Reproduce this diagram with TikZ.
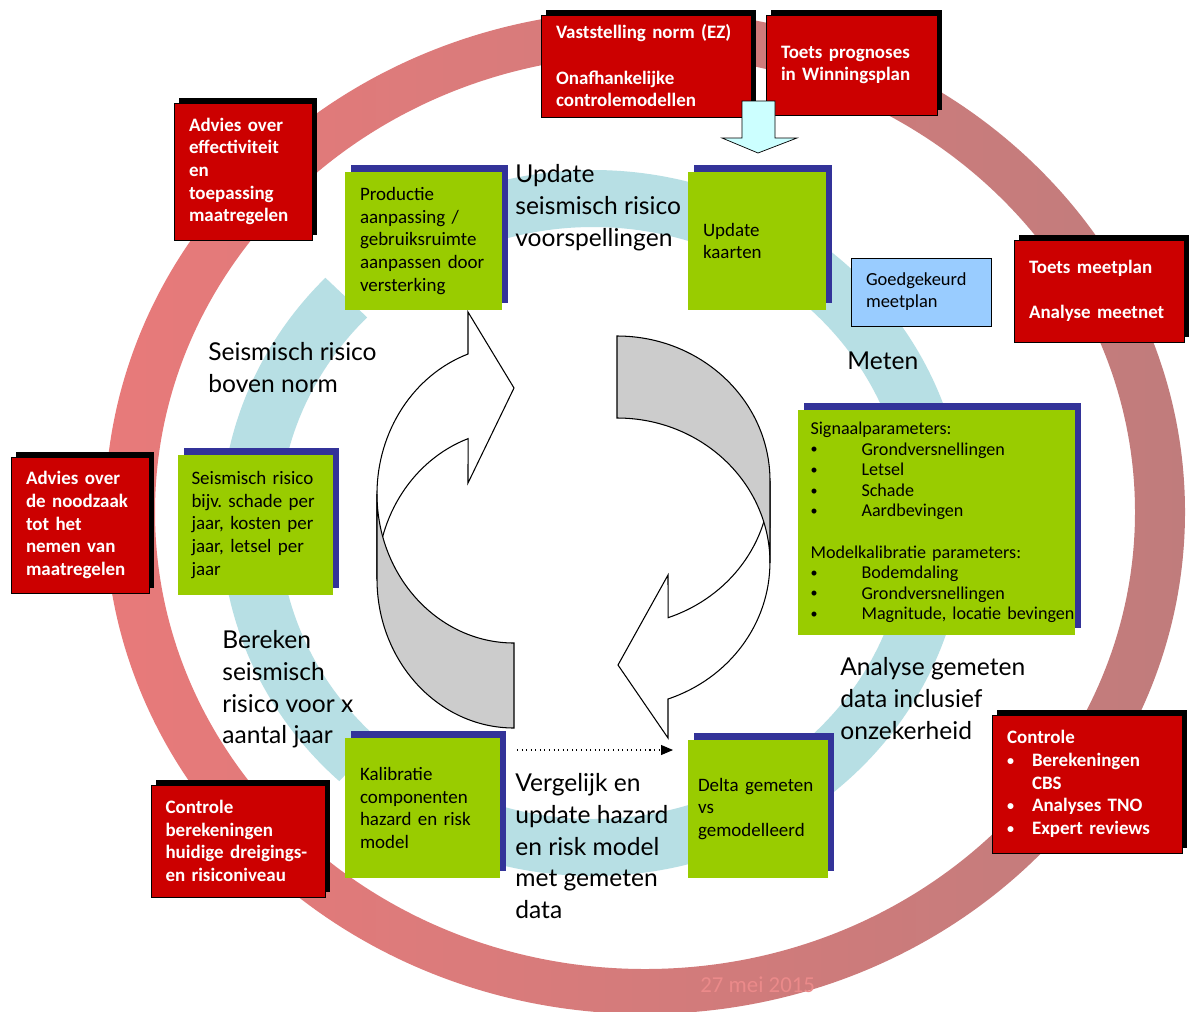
\documentclass[tikz,border=0pt]{standalone}
\usepackage{fontspec}
\setmainfont{Carlito}
\newfontfamily\labelfont{Lato}
\usetikzlibrary{arrows.meta,shadows,calc}

\definecolor{ringleft}{RGB}{232,122,122}
\definecolor{ringright}{RGB}{192,124,124}
\definecolor{bandblue}{RGB}{183,223,228}
\definecolor{boxgreen}{RGB}{153,204,0}
\definecolor{shadowblue}{RGB}{51,51,153}
\definecolor{boxred}{RGB}{204,0,0}
\definecolor{planblue}{RGB}{153,204,255}
\definecolor{arrowcyan}{RGB}{204,255,255}
\definecolor{backgray}{RGB}{204,204,204}

\newcommand{\bandpiece}[2]{%
  \fill[bandblue] ($(bandc)+(#1:314 and 296)$) arc[start angle=#1, end angle=#2, x radius=314, y radius=296]
    -- ($(bandc)+(#2:372 and 353)$) arc[start angle=#2, end angle=#1, x radius=372, y radius=353] -- cycle;}
\newcommand{\blt}[1]{\makebox[#1][l]{\raisebox{0.15ex}{\fontsize{8}{8}\selectfont\textbullet}}}

\begin{document}
\frenchspacing
\begin{tikzpicture}[x=0.02cm, y=-0.02cm,
    gbox/.style={fill=boxgreen, inner xsep=0.3cm, inner ysep=0pt, align=left,
      font=\fontsize{10.8}{12.9}\selectfont,
      drop shadow={shadow xshift=0.12cm, shadow yshift=0.14cm, fill=shadowblue, opacity=1}},
    rbox/.style={fill=boxred, draw=black, text=white, inner xsep=0.3cm, inner ysep=0pt, align=left,
      font=\fontsize{10.8}{12.9}\selectfont\bfseries,
      drop shadow={shadow xshift=0.1cm, shadow yshift=0.1cm, fill=black, opacity=1}},
    flowlabel/.style={anchor=north west, inner sep=0pt, align=left,
      font=\labelfont\fontsize{14}{18.1}\selectfont},
    backface/.style={fill=backgray, draw=black, line width=0.6pt},
    frontface/.style={fill=white, draw=black, line width=0.6pt}]

\useasboundingbox (0,0) rectangle (1189,1011);
\fill[white] (0,0) rectangle (1189,1011);

% outer ring
\shade[left color=ringleft, right color=ringright, even odd rule]
  (645,512) ellipse[x radius=540, y radius=502] (645,512) ellipse[x radius=490, y radius=457];
\node[text=ringleft!88!white, font=\fontsize{13}{15}\selectfont, anchor=west, inner sep=0pt] (datum) at (700,985) {27 mei 2015};

% inner cycle
\coordinate (bandc) at (593,523);
\bandpiece{-112}{-68}
\bandpiece{-52}{-14}
\bandpiece{14}{57}
\bandpiece{66}{114}
\bandpiece{133}{170}
\bandpiece{190}{224}

% turning arrows
\draw[frontface] (377,579) arc[start angle=180, end angle=250.4, x radius=137, y radius=149]
  -- (468,483) -- (514,388) -- (468,312) -- (468,354)
  arc[start angle=250.4, end angle=180, x radius=137, y radius=149] -- cycle;
\draw[backface] (377,579) arc[start angle=180, end angle=90, x radius=137, y radius=149]
  -- (514,643) arc[start angle=90, end angle=180, x radius=137, y radius=149] -- cycle;
\draw[frontface] (770,481) arc[start angle=0, end angle=70.5, x radius=153, y radius=145]
  -- (668,575) -- (618,665) -- (668,738) -- (668,699)
  arc[start angle=70.5, end angle=0, x radius=153, y radius=145] -- cycle;
\draw[backface] (770,481) arc[start angle=0, end angle=-90, x radius=153, y radius=145]
  -- (617,418) arc[start angle=-90, end angle=0, x radius=153, y radius=145] -- cycle;

\coordinate (cmpfrom) at (517,750);
\coordinate (cmpto) at (673,750);
\draw[dotted, semithick, -{Triangle[length=0.24cm, width=0.2cm]}] (cmpfrom) -- (cmpto);

% step labels
\node[flowlabel] (updlabel) at (515,164) {Update\\seismisch risico\\voorspellingen};
\node[flowlabel] (bovennorm) at (208,342) {Seismisch risico\\boven norm};
\node[flowlabel] (meten) at (847,352) {Meten};
\node[flowlabel] (analyse) at (840,657) {Analyse gemeten\\data inclusief\\onzekerheid};
\node[flowlabel] (bereken) at (222,630) {Bereken\\seismisch\\risico voor x\\aantal jaar};
\node[flowlabel] (vergelijk) at (515,773) {Vergelijk en\\update hazard\\en risk model\\met gemeten\\data};

% green steps
\node[gbox, text width=2.54cm, minimum height=2.76cm] (prod) at (423.5,241) {Productie\\aanpassing /\\gebruiksruimte\\aanpassen door\\versterking};
\node[gbox, text width=2.16cm, minimum height=2.76cm] (kaart) at (757,241) {Update\\kaarten};
\node[gbox, text width=5.04cm, inner xsep=0.25cm, minimum height=4.5cm, font=\fontsize{10.3}{11.7}\selectfont] (signaal) at (936.5,522.5)
  {Signaalparameters:\\
   \blt{1.02cm}Grondversnellingen\\
   \blt{1.02cm}Letsel\\
   \blt{1.02cm}Schade\\
   \blt{1.02cm}Aardbevingen\\[11.7pt]
   Modelkalibratie parameters:\\
   \blt{1.02cm}Bodemdaling\\
   \blt{1.02cm}Grondversnellingen\\
   \mbox{\blt{1.02cm}Magnitude, locatie bevingen}};
\node[gbox, text width=2.4cm, inner xsep=0.2cm, minimum height=2.76cm] (delta) at (758,809) {Delta gemeten\\vs\\gemodelleerd};
\node[gbox, text width=2.5cm, minimum height=2.8cm] (kalib) at (422.5,808) {Kalibratie\\componenten\\hazard en risk\\model};
\node[gbox, text width=2.56cm, inner xsep=0.27cm, minimum height=2.8cm] (seis) at (255.5,525) {Seismisch risico\\bijv. schade per\\jaar, kosten per\\jaar, letsel per\\jaar};

\node[fill=planblue, draw=black, inner xsep=0.3cm, text width=2.2cm, minimum height=1.36cm, align=left,
  font=\fontsize{10.5}{12.5}\selectfont] (meetplan) at (921,292) {Goedgekeurd\\meetplan};

% red checks
\node[rbox, text width=3.6cm, minimum height=2.04cm] (norm) at (646,66) {Vaststelling norm (EZ)\\[12.9pt]Onafhankelijke\\controlemodellen};
\node[rbox, text width=2.82cm, minimum height=2cm] (prognose) at (851.5,65) {Toets prognoses\\in Winningsplan};
\node[rbox, text width=2.16cm, minimum height=2.74cm] (effect) at (243,171.5) {Advies over\\effectiviteit\\en\\toepassing\\maatregelen};
\node[rbox, text width=2.8cm, minimum height=2.04cm] (meettoets) at (1099,291) {Toets meetplan\\[12.9pt]Analyse meetnet};
\node[rbox, text width=2.16cm, minimum height=2.72cm] (noodzaak) at (80,525) {Advies over\\de noodzaak\\tot het\\nemen van\\maatregelen};
\node[rbox, text width=3.2cm, minimum height=2.76cm] (controle) at (1087,784)
  {Controle\\
   \blt{0.5cm}Berekeningen\\
   \hspace*{0.5cm}CBS\\
   \blt{0.5cm}Analyses TNO\\
   \blt{0.5cm}Expert reviews};
\node[rbox, text width=2.9cm, inner xsep=0.29cm, minimum height=2.24cm] (herberekening) at (238,841) {Controle\\berekeningen\\huidige dreigings-\\en risiconiveau};

\draw[fill=arrowcyan] (742,101) -- (775,101) -- (775,138) -- (797,138) -- (758,153) -- (722,138) -- (742,138) -- cycle;
\end{tikzpicture}
\end{document}
